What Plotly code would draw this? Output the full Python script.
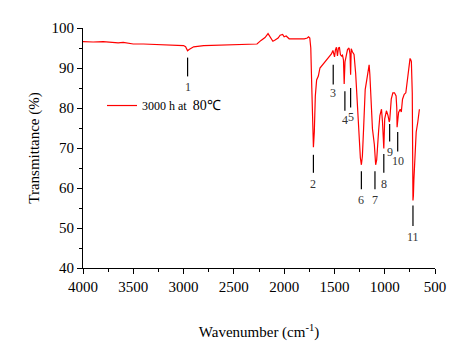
import plotly.graph_objects as go

# FTIR spectrum
wavenumber = [4000, 3900, 3800, 3700, 3650, 3600, 3550, 3500, 3400, 3300, 3200, 3100, 3050, 3000,
              2980, 2960, 2945, 2920, 2900, 2800, 2700, 2600, 2500, 2400, 2300, 2270, 2230, 2190,
              2160, 2140, 2112, 2090, 2060, 2040, 2015, 2000, 1980, 1950, 1900, 1850, 1800, 1770,
              1757, 1745, 1735, 1725, 1715, 1709, 1700, 1690, 1677, 1660, 1644, 1612, 1580, 1547,
              1530, 1515, 1508, 1499, 1490, 1480, 1470, 1460, 1450, 1440, 1430, 1420, 1410, 1403,
              1395, 1385, 1370, 1355, 1345, 1339, 1333, 1320, 1305, 1289, 1274, 1258, 1242, 1232,
              1222, 1210, 1194, 1178, 1161, 1155, 1148, 1138, 1122, 1103, 1090, 1080, 1071, 1060,
              1048, 1032, 1022, 1015, 1009, 1000, 983, 967, 955, 950, 945, 935, 919, 903, 887, 880,
              877, 870, 862, 846, 835, 823, 806, 790, 774, 758, 748, 740, 735, 726, 722, 719, 715,
              710, 700, 687, 671, 655]
transmittance = [96.6, 96.5, 96.6, 96.4, 96.3, 96.4, 96.2, 96.0, 96.0, 95.9, 95.9, 95.8, 95.7, 95.6,
                 95.3, 94.3, 94.6, 95.1, 95.3, 95.6, 95.7, 95.8, 95.8, 95.9, 96.0, 96.0, 96.9, 97.6,
                 98.6, 97.8, 96.7, 97.0, 97.5, 98.2, 98.4, 97.8, 98.0, 97.3, 97.3, 97.4, 97.3, 97.5,
                 97.8, 97.5, 95.0, 85.0, 72.0, 70.2, 74.0, 83.0, 87.0, 88.0, 90.0, 91.0, 91.8, 92.8,
                 93.5, 94.4, 93.5, 92.8, 94.5, 95.2, 93.0, 95.0, 95.1, 93.3, 93.0, 93.2, 92.0, 86.0,
                 91.5, 92.5, 94.6, 95.0, 93.5, 88.3, 94.8, 94.0, 93.4, 88.7, 81.4, 72.4, 67.5, 65.8,
                 68.0, 74.8, 84.6, 87.1, 90.4, 90.8, 88.5, 83.0, 74.8, 70.8, 65.8, 67.0, 71.6, 74.5,
                 78.1, 79.7, 76.5, 73.0, 69.9, 77.3, 79.3, 78.1, 76.5, 77.0, 79.0, 82.2, 83.8, 83.8,
                 83.0, 80.0, 75.2, 77.0, 78.9, 79.7, 79.0, 82.2, 83.4, 83.8, 87.1, 90.0, 92.4, 92.0,
                 91.6, 83.8, 70.0, 56.9, 58.0, 62.0, 67.5, 74.0, 76.5, 79.7]

# numbered band markers
peak_labels = ['1', '2', '3', '4', '5', '6', '7', '8', '9', '10', '11']
peak_wn = [2960, 1709, 1512, 1396, 1339, 1232, 1097, 1009, 951, 871, 719]
mark_top = [92.6, 68.3, 90.8, 84.2, 85.0, 64.2, 64.2, 68.5, 76.0, 74.0, 55.6]
mark_bottom = [87.9, 63.8, 85.9, 79.3, 80.1, 59.7, 59.7, 63.8, 71.6, 69.1, 50.5]
label_y = [85.3, 61.0, 83.7, 76.9, 77.7, 57.1, 56.9, 61.0, 69.1, 66.7, 47.7]

serif = "Liberation Serif"

fig = go.Figure()
fig.add_trace(go.Scatter(
    x=wavenumber, y=transmittance, mode='lines',
    line=dict(color='red', width=1.2),
    name="3000 h at  <span style='font-size:14px'>80℃</span>",
))

for lab, w, t, b, ly in zip(peak_labels, peak_wn, mark_top, mark_bottom, label_y):
    fig.add_shape(type='line', x0=w, x1=w, y0=b, y1=t, line=dict(color='black', width=1.2))
    fig.add_annotation(x=w, y=ly, text=lab, showarrow=False,
                       font=dict(family=serif, size=12, color='#333'))

# page body has an 8px margin, so the figure is 8px smaller than the window
fig.update_layout(
    width=450, height=342,
    margin=dict(l=75, r=13, t=16, b=81),
    plot_bgcolor='white', paper_bgcolor='white',
    font=dict(family=serif, size=15, color='black'),
    showlegend=True,
    legend=dict(x=0.054, y=0.677, yanchor='middle', xanchor='left',
                bgcolor='rgba(0,0,0,0)', font=dict(size=12, family=serif),
                itemwidth=30),
)
fig.update_xaxes(
    range=[4000, 500], tickvals=[4000, 3500, 3000, 2500, 2000, 1500, 1000, 500],
    tickfont=dict(family=serif, size=15, color='black'),
    showline=True, linecolor='black', linewidth=1,
    ticks='outside', ticklen=5, tickcolor='black',
    minor=dict(dtick=250, ticks='outside', ticklen=3, tickcolor='black'),
    showgrid=False, zeroline=False,
    title=dict(text='Wavenumber (cm<sup>-1</sup>)', standoff=32,
               font=dict(family=serif, size=15, color='black')),
)
fig.update_yaxes(
    range=[40, 100], dtick=10,
    tickfont=dict(family=serif, size=15, color='black'),
    showline=True, linecolor='black', linewidth=1,
    ticks='outside', ticklen=5, tickcolor='black',
    minor=dict(dtick=5, ticks='outside', ticklen=3, tickcolor='black'),
    showgrid=False, zeroline=False,
    title=dict(text='Transmittance (%)', standoff=8,
               font=dict(family=serif, size=15, color='black')),
)

fig.write_html("out.html")
